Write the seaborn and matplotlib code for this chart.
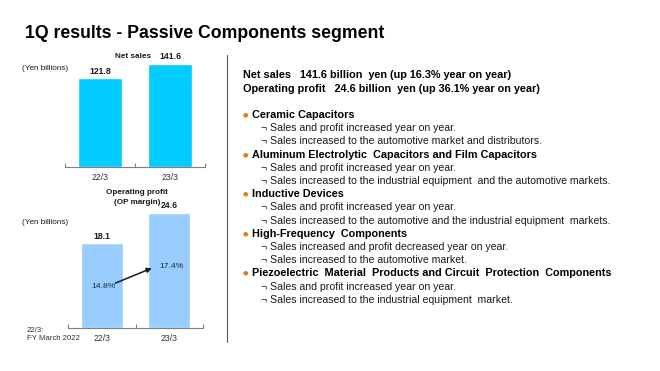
import matplotlib
matplotlib.use("Agg")
import matplotlib.pyplot as plt
from matplotlib.ticker import FixedLocator
import pandas as pd
import seaborn as sns

# data
periods = ["22/3", "23/3"]
net_sales = [121.8, 141.6]
op_profit = [18.1, 24.6]
op_margin = ["14.8%", "17.4%"]

title = "1Q results - Passive Components segment"
summary = [
    "Net sales   141.6 billion  yen (up 16.3% year on year)",
    "Operating profit   24.6 billion  yen (up 36.1% year on year)",
]
segments = [
    ("Ceramic Capacitors", [
        "Sales and profit increased year on year.",
        "Sales increased to the automotive market and distributors.",
    ]),
    ("Aluminum Electrolytic  Capacitors and Film Capacitors", [
        "Sales and profit increased year on year.",
        "Sales increased to the industrial equipment  and the automotive markets.",
    ]),
    ("Inductive Devices", [
        "Sales and profit increased year on year.",
        "Sales increased to the automotive and the industrial equipment  markets.",
    ]),
    ("High-Frequency  Components", [
        "Sales increased and profit decreased year on year.",
        "Sales increased to the automotive market.",
    ]),
    ("Piezoelectric  Material  Products and Circuit  Protection  Components", [
        "Sales and profit increased year on year.",
        "Sales increased to the industrial equipment  market.",
    ]),
]

sns.set_theme(style="white")
plt.rcParams["font.family"] = ["Liberation Sans", "DejaVu Sans"]

W, H = 660, 371
fig = plt.figure(figsize=(W / 100, H / 100), dpi=100)
fig.patch.set_facecolor("white")


def px(x, y):
    return x / W, 1 - y / H


def style_axis(ax):
    for s in ("left", "top", "right"):
        ax.spines[s].set_visible(False)
    ax.spines["bottom"].set_color("#7f7f7f")
    ax.spines["bottom"].set_linewidth(0.8)
    ax.set_xlim(-0.5, 1.5)
    ax.set_yticks([])
    ax.set_xlabel("")
    ax.set_ylabel("")
    ax.tick_params(axis="x", which="major", length=0, labelsize=6.3,
                   labelcolor="#333333", pad=4)
    ax.xaxis.set_minor_locator(FixedLocator([-0.5, 0.5, 1.5]))
    ax.tick_params(axis="x", which="minor", bottom=True, direction="in",
                   length=3, width=0.8, color="#7f7f7f")


# top chart: net sales
ax1 = fig.add_axes([65 / W, (H - 167) / H, 140 / W, 112 / H])
df1 = pd.DataFrame({"period": periods, "value": net_sales})
sns.barplot(data=df1, x="period", y="value", color="#00CCFF", saturation=1,
            width=0.62, ax=ax1)
ax1.set_ylim(0, 154)
style_axis(ax1)
for i, v in enumerate(net_sales):
    ax1.annotate(f"{v:.1f}", (i, v), xytext=(0, 2), textcoords="offset points",
                 ha="center", va="bottom", fontsize=6.2, fontweight="bold",
                 color="#1a1a1a")

# bottom chart: operating profit
ax2 = fig.add_axes([68 / W, (H - 328) / H, 135 / W, 128 / H])
df2 = pd.DataFrame({"period": periods, "value": op_profit})
sns.barplot(data=df2, x="period", y="value", color="#99CCFF", saturation=1,
            width=0.62, ax=ax2)
ax2.set_ylim(0, 27.4)
style_axis(ax2)
for i, v in enumerate(op_profit):
    ax2.annotate(f"{v:.1f}", (i, v), xytext=(0, 2), textcoords="offset points",
                 ha="center", va="bottom", fontsize=6.2, fontweight="bold",
                 color="#1a1a1a")

margin_y = [8.8, 13.1]
for i, m in enumerate(op_margin):
    ax2.text(i + 0.03, margin_y[i], m, ha="center", va="center",
             fontsize=6.1, color="#1f2a44")
ax2.annotate("", xy=(0.74, 12.8), xytext=(0.2, 9.6),
             arrowprops=dict(arrowstyle="-|>", color="#1a1a1a", lw=1.1,
                             mutation_scale=7, shrinkA=0, shrinkB=0))

# chart labels
lab = dict(fontsize=5.9, color="#1a1a1a")
fig.text(*px(133, 57), "Net sales", ha="center", va="center",
         fontweight="bold", **lab)
fig.text(*px(22, 69), "(Yen billions)", ha="left", va="center", **lab)
fig.text(*px(137, 193), "Operating profit", ha="center", va="center",
         fontweight="bold", **lab)
fig.text(*px(137, 203), "(OP margin)", ha="center", va="center",
         fontweight="bold", **lab)
fig.text(*px(22, 222), "(Yen billions)", ha="left", va="center", **lab)
fig.text(*px(27, 330), "22/3:", ha="left", va="center", fontsize=5.6,
         color="#333333")
fig.text(*px(27, 339), "FY March 2022", ha="left", va="center", fontsize=5.6,
         color="#333333")

# divider
fig.add_artist(plt.Line2D([227 / W, 227 / W], [1 - 55 / H, 1 - 342 / H],
                          color="#555555", lw=0.8))

# title
fig.text(*px(25, 33), title, ha="left", va="center", fontsize=12.7,
         fontweight="bold", color="#000000")

# right text block
fig.text(*px(243, 75), summary[0], ha="left", va="center", fontsize=7.8,
         fontweight="bold", color="#000000")
fig.text(*px(243, 89), summary[1], ha="left", va="center", fontsize=7.8,
         fontweight="bold", color="#000000")

y = 115
step = 13.2
for head, subs in segments:
    fig.text(*px(243, y), "●", ha="left", va="center", fontsize=4.5,
             color="#E07A1F", family=["DejaVu Sans"])
    fig.text(*px(252, y), head, ha="left", va="center", fontsize=7.8,
             fontweight="bold", color="#000000")
    y += step
    for s in subs:
        fig.text(*px(261, y), "¬ " + s, ha="left", va="center", fontsize=7.55,
                 color="#1a1a1a")
        y += step

fig.savefig("out.png", dpi=100, facecolor="white")
